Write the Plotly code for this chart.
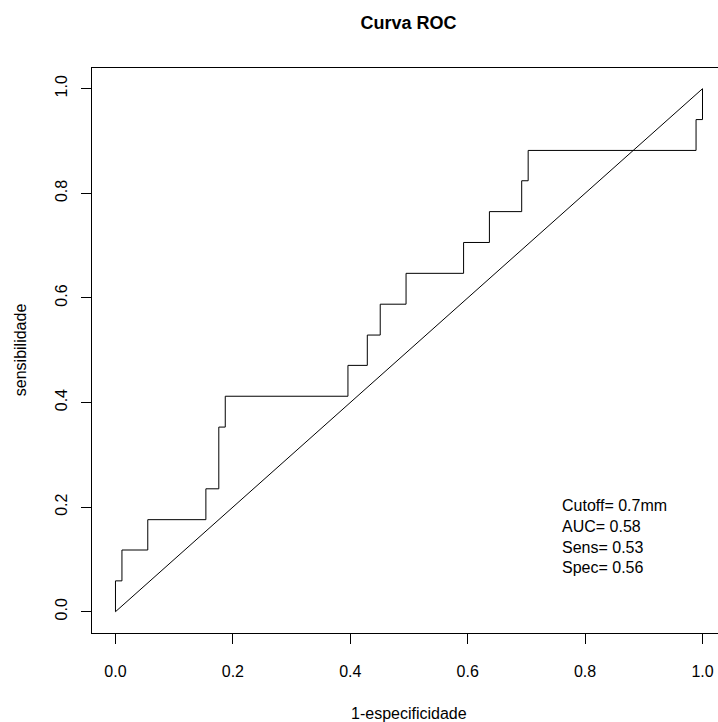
import plotly.graph_objects as go

# ROC curve points (1-specificity, sensitivity)
fpr = [0.0, 0.0, 0.011, 0.011, 0.055, 0.055, 0.154, 0.154, 0.176, 0.176, 0.187, 0.187,
       0.396, 0.396, 0.429, 0.429, 0.451, 0.451, 0.495, 0.495, 0.593, 0.593, 0.637, 0.637,
       0.692, 0.692, 0.703, 0.703, 0.989, 0.989, 1.0, 1.0]
tpr = [0.0, 0.059, 0.059, 0.118, 0.118, 0.176, 0.176, 0.235, 0.235, 0.353, 0.353, 0.412,
       0.412, 0.471, 0.471, 0.529, 0.529, 0.588, 0.588, 0.647, 0.647, 0.706, 0.706, 0.765,
       0.765, 0.824, 0.824, 0.882, 0.882, 0.941, 0.941, 1.0]
diag_x = [0.0, 1.0]
diag_y = [0.0, 1.0]
tick_vals = [0.0, 0.2, 0.4, 0.6, 0.8, 1.0]
tick_text = ["0.0", "0.2", "0.4", "0.6", "0.8", "1.0"]
stats_lines = ["Cutoff= 0.7mm", "AUC= 0.58", "Sens= 0.53", "Spec= 0.56"]
x_title = "1-especificidade"
y_title = "sensibilidade"
main_title = "Curva ROC"

FONT = "Arial, Liberation Sans, sans-serif"

fig = go.Figure()
fig.add_trace(go.Scatter(x=fpr, y=tpr, mode="lines",
                         line=dict(color="black", width=1), showlegend=False))
fig.add_trace(go.Scatter(x=diag_x, y=diag_y, mode="lines",
                         line=dict(color="black", width=1), showlegend=False))

fig.add_annotation(x=0.758, y=0.224, xref="x", yref="y", xanchor="left", yanchor="top",
                   text="<br>".join(stats_lines), showarrow=False, align="left",
                   font=dict(family=FONT, size=16, color="black"))
fig.add_annotation(x=0.5, y=-0.1416, xref="x", yref="paper", xanchor="center",
                   yanchor="middle", text=x_title, showarrow=False,
                   font=dict(family=FONT, size=16, color="black"))
fig.add_annotation(x=-0.115, y=0.5, xref="paper", yref="y", xanchor="center",
                   yanchor="middle", text=y_title, textangle=-90, showarrow=False,
                   font=dict(family=FONT, size=16, color="black"))

fig.update_layout(
    width=718, height=722,
    margin=dict(l=92, r=0, t=68, b=89),
    plot_bgcolor="white", paper_bgcolor="white",
    font=dict(family=FONT, size=16, color="black"),
    title=dict(text="<b>" + main_title + "</b>", x=0.569, xanchor="center", y=0.968,
               yanchor="middle", font=dict(family=FONT, size=18, color="black")),
    xaxis=dict(range=[-0.04, 1.0264], tickvals=tick_vals, ticktext=tick_text,
               showline=True, linecolor="black", linewidth=1, mirror=True,
               ticks="outside", ticklen=10, tickcolor="black", tickwidth=1,
               ticklabelstandoff=14,
               showgrid=False, zeroline=False),
    yaxis=dict(range=[-0.0407, 1.0396], tickvals=tick_vals, ticktext=tick_text,
               showline=True, linecolor="black", linewidth=1, mirror=False,
               ticks="outside", ticklen=10, tickcolor="black", tickwidth=1,
               tickangle=-90, ticklabelstandoff=8,
               showgrid=False, zeroline=False),
)

fig.write_html("out.html",
               config={"displayModeBar": False},
               post_script="document.body.style.margin='0';"
                           "document.body.style.overflow='hidden';")
